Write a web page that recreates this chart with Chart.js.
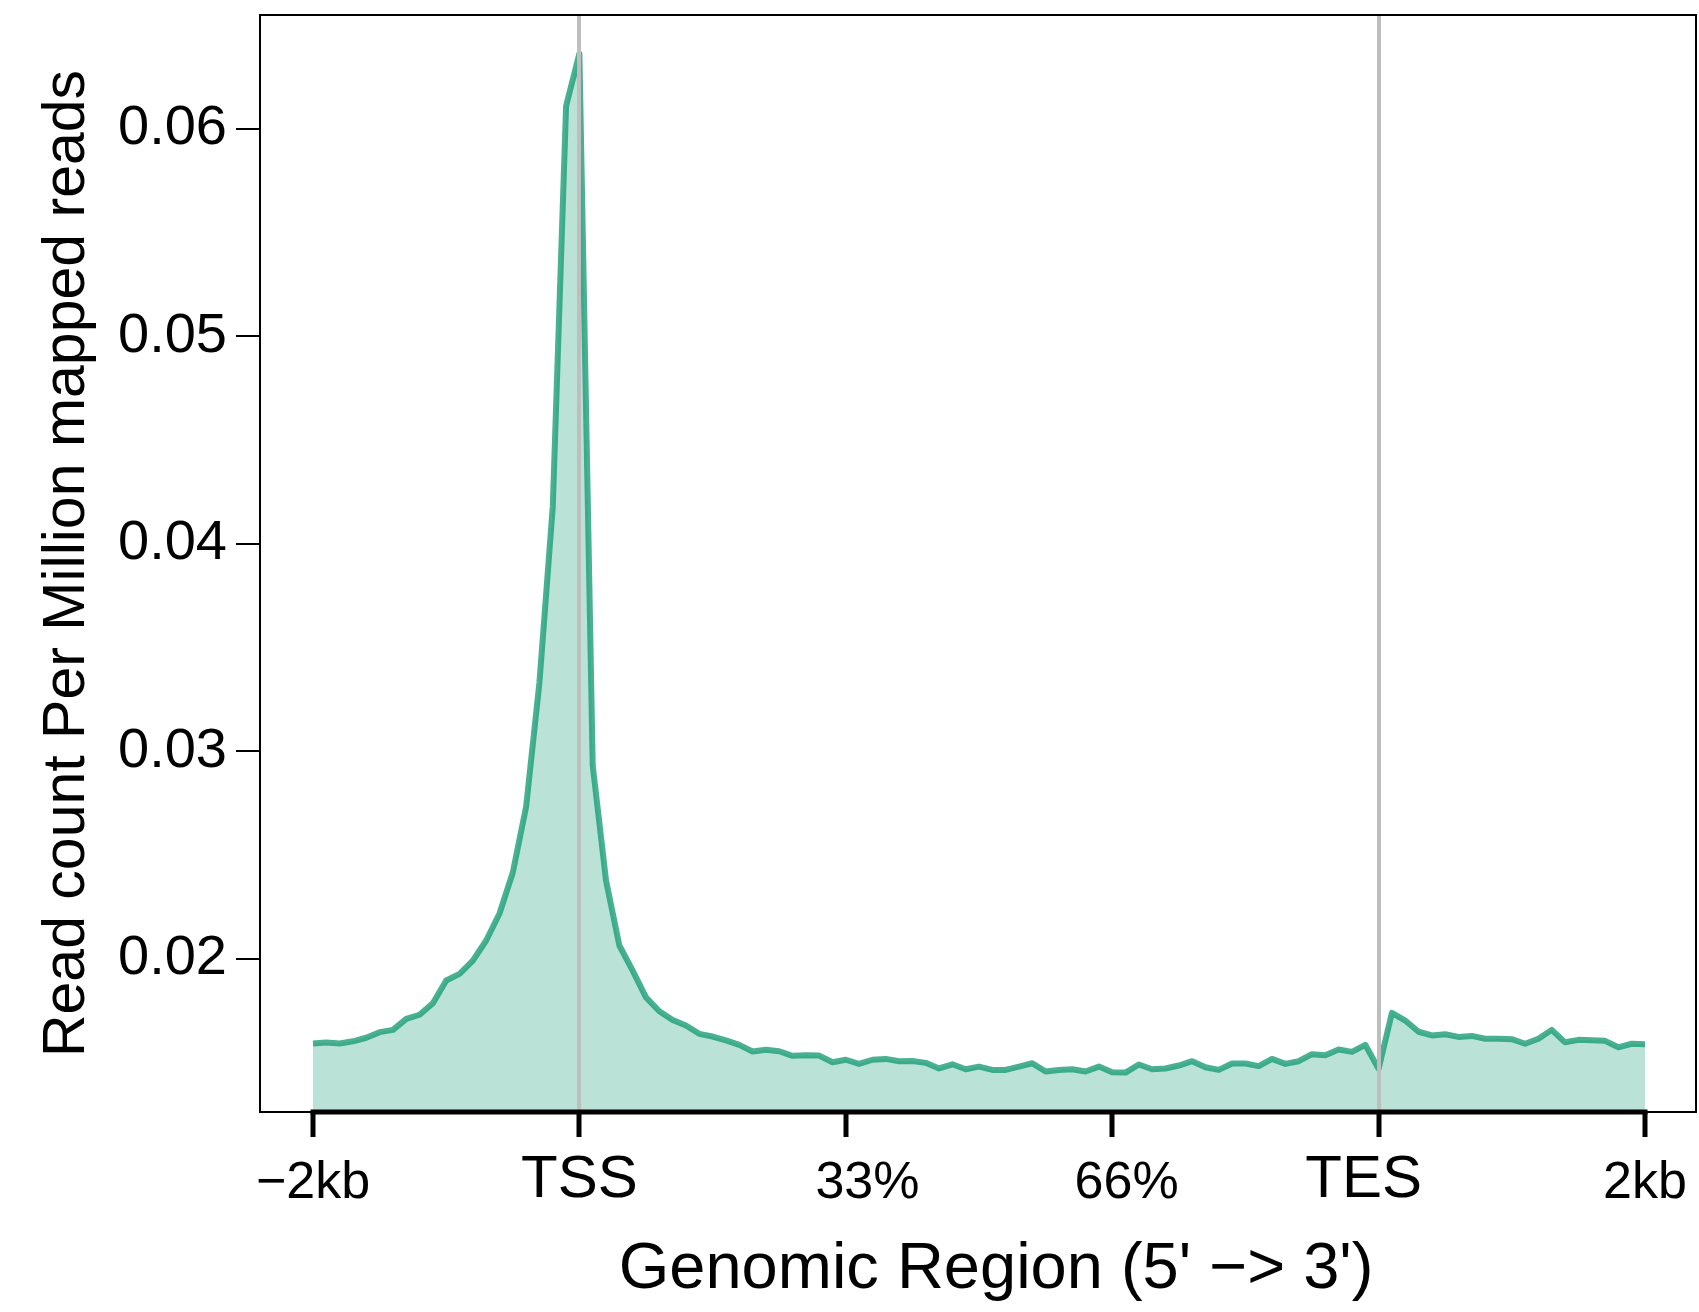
<!DOCTYPE html>
<html>
<head>
<meta charset="utf-8">
<script src="https://cdn.jsdelivr.net/npm/chart.js@4.4.0/dist/chart.umd.min.js"></script>
<style>
    html, body { margin: 0; padding: 0; background: #fff; }
    #wrap { width: 1699px; height: 1312px; }
</style>
</head>
<body>
<div id="wrap"><canvas id="profileChart" width="1699" height="1312"></canvas></div>
<script>
// metagene bins: 0 = -2kb, 20 = TSS, 80 = TES, 100 = +2kb
const xTickPos = [0, 20, 40, 60, 80, 100];
// R put the middle labels slightly off their ticks; padded to match
const xTickLabels = ['\u22122kb', 'TSS', '   33%', '  66%', 'TES\u2002', '2kb'];
const markerPos = [20, 80];
const yTicks = [0.02, 0.03, 0.04, 0.05, 0.06];

// read count per million mapped reads, one value per bin (101 bins)
const coverage = [
    0.01590, 0.01595, 0.01590, 0.01601, 0.01618, 0.01645, 0.01656, 0.01709, 0.01729, 0.01784,
    0.01894, 0.01926, 0.01990, 0.02087, 0.02217, 0.02415, 0.02733, 0.03332, 0.04179, 0.06111,
    0.06364, 0.02931, 0.02376, 0.02063, 0.01942, 0.01813, 0.01746, 0.01704, 0.01677, 0.01637,
    0.01624, 0.01605, 0.01584, 0.01552, 0.01560, 0.01553, 0.01531, 0.01534, 0.01532, 0.01500,
    0.01512, 0.01492, 0.01512, 0.01516, 0.01505, 0.01506, 0.01497, 0.01470, 0.01490, 0.01466,
    0.01479, 0.01463, 0.01463, 0.01479, 0.01495, 0.01455, 0.01463, 0.01466, 0.01455, 0.01479,
    0.01452, 0.01450, 0.01489, 0.01466, 0.01470, 0.01484, 0.01505, 0.01476, 0.01463, 0.01494,
    0.01494, 0.01481, 0.01516, 0.01492, 0.01505, 0.01539, 0.01534, 0.01561, 0.01550, 0.01584,
    0.01468, 0.01738, 0.01701, 0.01647, 0.01629, 0.01635, 0.01622, 0.01627, 0.01613, 0.01613,
    0.01611, 0.01589, 0.01613, 0.01656, 0.01596, 0.01608, 0.01606, 0.01603, 0.01572, 0.01589,
    0.01587
];

const FONT = "'Liberation Sans', Arial, Helvetica, sans-serif";
Chart.defaults.font.family = FONT;
Chart.defaults.color = '#000';

function labelFor(value) {
    return xTickLabels[xTickPos.indexOf(value)];
}

function isMarker(ctx) {
    return ctx.tick && markerPos.includes(ctx.tick.value);
}

// thin box round the plot + heavy axis bar under the labelled range
const framePlugin = {
    id: 'frame',
    afterDraw(chart) {
        const { ctx, chartArea: a, scales: { x } } = chart;
        ctx.save();
        ctx.strokeStyle = '#000';
        ctx.lineWidth = 2;
        ctx.strokeRect(a.left, a.top, a.right - a.left, a.bottom - a.top);
        ctx.lineWidth = 5;
        ctx.beginPath();
        ctx.moveTo(x.getPixelForValue(xTickPos[0]) - 2.5, a.bottom);
        ctx.lineTo(x.getPixelForValue(xTickPos[xTickPos.length - 1]) + 2.5, a.bottom);
        ctx.stroke();
        ctx.restore();
    }
};

const ctx = document.getElementById('profileChart').getContext('2d');
new Chart(ctx, {
    type: 'line',
    data: {
        datasets: [{
            data: coverage.map((v, i) => ({ x: i, y: v })),
            borderColor: 'rgba(27, 158, 119, 0.8)',
            backgroundColor: 'rgba(27, 158, 119, 0.3)',
            borderWidth: 6,
            borderJoinStyle: 'round',
            fill: 'start',
            pointRadius: 0,
            tension: 0
        }]
    },
    options: {
        responsive: false,
        animation: false,
        devicePixelRatio: 1,
        layout: { padding: { top: 15, right: 3, left: 0, bottom: 0 } },
        plugins: {
            legend: { display: false },
            tooltip: { enabled: false }
        },
        scales: {
            x: {
                type: 'linear',
                min: -3.98,
                max: 103.83,
                afterBuildTicks: (scale) => {
                    scale.ticks = xTickPos.map(v => ({ value: v }));
                },
                afterFit: (scale) => {
                    scale.height = 200;
                    scale.paddingLeft = 0;
                    scale.paddingRight = 0;
                },
                border: { display: false },
                grid: {
                    z: 1,
                    drawOnChartArea: true,
                    color: (c) => isMarker(c) ? '#bebebe' : 'rgba(0,0,0,0)',
                    lineWidth: 4,
                    tickColor: '#000',
                    tickWidth: 5,
                    tickLength: 25
                },
                ticks: {
                    autoSkip: false,
                    maxRotation: 0,
                    padding: 14,
                    color: '#000',
                    font: (c) => isMarker(c)
                        ? { size: 60, lineHeight: 0.98 }
                        : { size: 52, lineHeight: 1.25 },
                    callback: (value) => labelFor(value)
                },
                title: {
                    display: true,
                    text: "  Genomic Region (5' \u2212> 3')",
                    color: '#000',
                    font: { size: 65, lineHeight: 1 },
                    padding: { top: 0, bottom: 9 }
                }
            },
            y: {
                min: 0.0126,
                max: 0.0655,
                afterBuildTicks: (scale) => {
                    scale.ticks = yTicks.map(v => ({ value: v }));
                },
                afterFit: (scale) => {
                    scale.width = 260;
                    scale.paddingTop = 0;
                    scale.paddingBottom = 0;
                },
                border: { display: false },
                grid: {
                    drawOnChartArea: false,
                    color: '#000',
                    lineWidth: 2,
                    tickLength: 24
                },
                ticks: {
                    padding: 9,
                    color: '#000',
                    font: { size: 56 },
                    callback: (value) => value.toFixed(2)
                },
                title: {
                    display: true,
                    text: 'Read count Per Million mapped reads',
                    color: '#000',
                    font: { size: 59, lineHeight: 1 },
                    padding: { top: 38, bottom: 0 }
                }
            }
        }
    },
    plugins: [framePlugin]
});
</script>
</body>
</html>
